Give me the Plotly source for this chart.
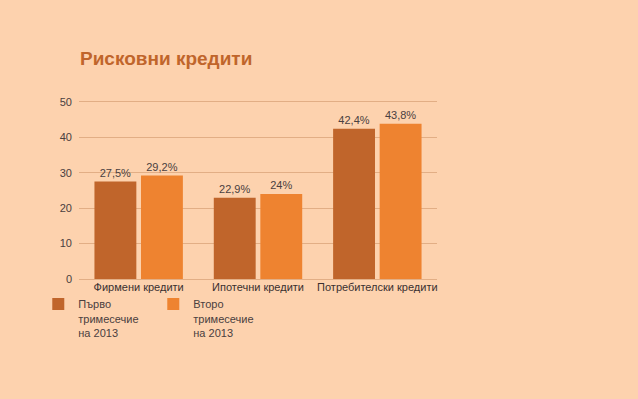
import plotly.graph_objects as go

categories = ["Фирмени кредити", "Ипотечни кредити", "Потребителски кредити"]
series_names = ["Първо<br>тримесечие<br>на 2013", "Второ<br>тримесечие<br>на 2013"]
q1_values = [27.5, 22.9, 42.4]
q2_values = [29.2, 24.0, 43.8]
y_ticks = [0, 10, 20, 30, 40, 50]
title_text = "Рисковни кредити"

colors = ["#C0652B", "#EE8330"]
bg = "#FDD2AE"
grid = "#E2AE85"


def fmt(v):
    return f"{v:g}".replace(".", ",") + "%"


fig = go.Figure()
for name, vals, col in zip(series_names, [q1_values, q2_values], colors):
    fig.add_trace(go.Bar(
        x=categories, y=vals, name=name,
        marker=dict(color=col, line=dict(width=0)),
        text=[fmt(v) for v in vals], textposition="outside",
        textfont=dict(family="Liberation Sans Narrow, Arial Narrow, sans-serif", size=11, color="#4a4040"),
        cliponaxis=False,
    ))

fig.update_layout(
    width=638, height=399,
    paper_bgcolor=bg, plot_bgcolor=bg,
    margin=dict(l=79, r=201, t=100, b=120, autoexpand=False),
    barmode="group", bargap=0.22, bargroupgap=0.1,
    showlegend=True,
    legend=dict(
        orientation="h", xref="container", yref="container",
        x=0.060, y=0.272, xanchor="left", yanchor="top",
        entrywidth=70, entrywidthmode="pixels",
        font=dict(family="Liberation Sans, Arial, sans-serif", size=11, color="#4a4040"),
        bgcolor="rgba(0,0,0,0)", traceorder="normal", valign="top",
    ),
    title=dict(
        text="<b>" + title_text + "</b>",
        x=80 / 638, xanchor="left", y=1 - 58 / 399, yanchor="middle",
        font=dict(family="Liberation Sans, Arial, sans-serif", size=19, color="#C0652B"),
    ),
    xaxis=dict(
        showgrid=False, zeroline=False, showline=False, ticks="",
        tickfont=dict(family="Liberation Sans, Arial, sans-serif", size=11, color="#3a3030"),
    ),
    yaxis=dict(
        range=[0, 50.5], tickvals=y_ticks, ticks="", showline=False,
        zeroline=True, zerolinecolor=grid, zerolinewidth=1,
        gridcolor=grid, gridwidth=1,
        tickfont=dict(family="Liberation Sans Narrow, Arial Narrow, sans-serif", size=11, color="#4a4040"),
        ticklabelstandoff=6,
    ),
)

fig.write_html(
    "out.html",
    config={"displayModeBar": False},
    post_script="document.body.style.margin='0';document.body.style.overflow='hidden';",
)
